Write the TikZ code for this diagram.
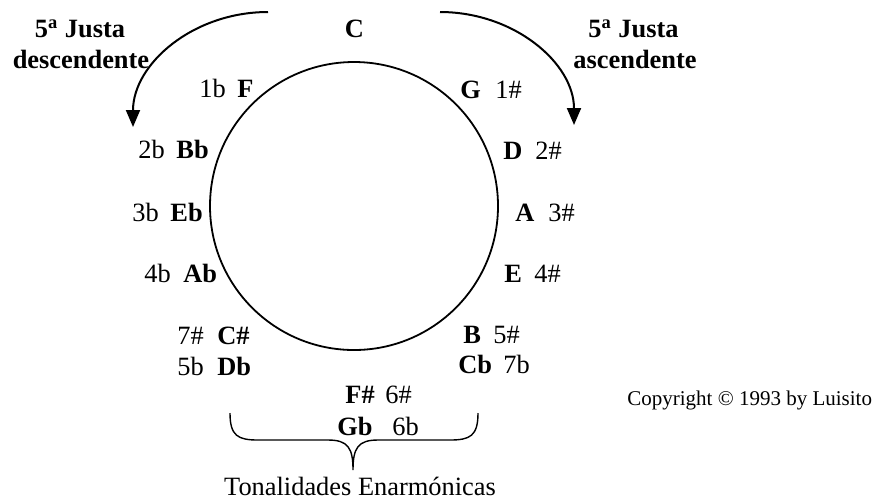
\documentclass[tikz,border=0pt]{standalone}
\usepackage{fontspec}
\setmainfont{Liberation Serif}
\usetikzlibrary{arrows.meta}

\begin{document}
\begin{tikzpicture}[x=0.5pt, y=-0.5pt, >={Triangle[length=8.5pt, width=7pt]},
    lbl/.style={inner sep=0pt, font=\fontsize{13.2}{16}\selectfont},
    key/.style={inner sep=0pt, font=\fontsize{13.2}{16}\selectfont\bfseries}]
    \useasboundingbox (0,0) rectangle (872,500);
    \draw[line width=0.9pt] (354,206) circle (144);
    % flat side: number, then key
    \foreach \id/\num/\key/\xn/\xk/\yb in {f/1b/F/199/237/97, bb/2b/Bb/138/176/158,
        eb/3b/Eb/132/170/221, ab/4b/Ab/144/183/282, cs/7\#/C\#/177/217/344,
        db/5b/Db/177/217/375} {
        \node[lbl, anchor=base west] (n\id) at (\xn,\yb) {\num};
        \node[key, anchor=base west] (k\id) at (\xk,\yb) {\key};
    }
    % sharp side: key, then number
    \foreach \id/\key/\num/\xk/\xn/\yb in {g/G/1\#/460/495/98, d/D/2\#/503/535/159,
        a/A/3\#/515/548/221, e/E/4\#/504/534/282, b/B/5\#/463/493/343,
        cb/Cb/7b/458/503/373, fs/F\#/6\#/345/385/403, gb/Gb/6b/337/392/435} {
        \node[key, anchor=base west] (k\id) at (\xk,\yb) {\key};
        \node[lbl, anchor=base west] (n\id) at (\xn,\yb) {\num};
    }
    \node[key, anchor=base] (tonic) at (354.5,37) {C};
    \node[key, anchor=base] (desc1) at (80,37) {5\textsuperscript{a} Justa};
    \node[key, anchor=base] (desc2) at (81,68) {descendente};
    \node[key, anchor=base] (asc1) at (633.5,37) {5\textsuperscript{a} Justa};
    \node[key, anchor=base] (asc2) at (635,68) {ascendente};
    % circle-of-fifths arrows
    \coordinate (descA) at (268,12);
    \coordinate (descB) at (133,127);
    \coordinate (ascA) at (440,12);
    \coordinate (ascB) at (574,125);
    \draw[->, line width=1pt] (descA) .. controls (193,12) and (133,64) .. (descB);
    \draw[->, line width=1pt] (ascA) .. controls (514,12) and (574,63) .. (ascB);
    % enharmonic brace
    \draw[line width=0.7pt] (230,413) .. controls (230,436) and (238,440) .. (258,440)
        -- (328,440) .. controls (348,440) and (353,448) .. (353,470)
        .. controls (353,448) and (358,440) .. (378,440)
        -- (450,440) .. controls (470,440) and (478,436) .. (478,413);
    \node[lbl, anchor=base] (enh) at (360,495) {Tonalidades Enarmónicas};
    \node[inner sep=0pt, font=\fontsize{10.5}{12}\selectfont, anchor=base west] (copy)
        at (627,405) {Copyright © 1993 by Luisito};
\end{tikzpicture}
\end{document}
